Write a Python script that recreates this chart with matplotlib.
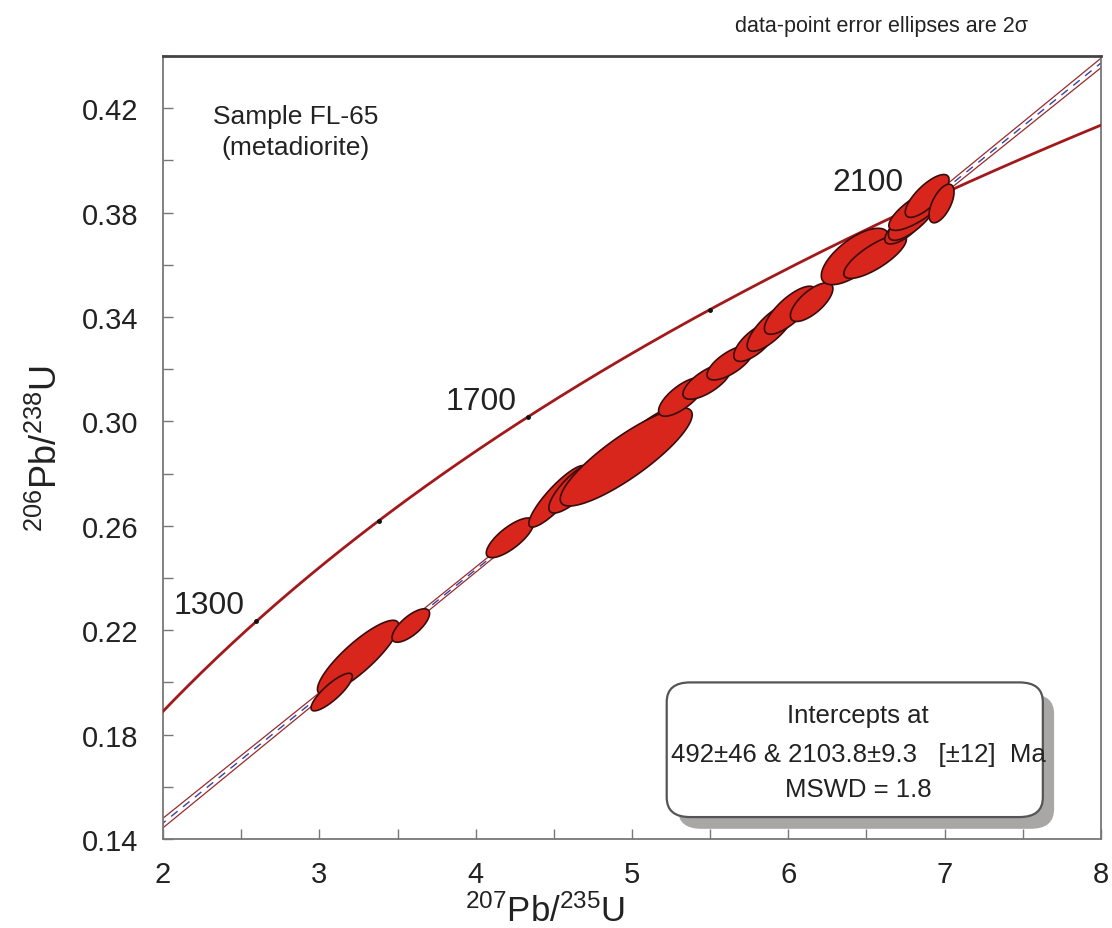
import numpy as np
import matplotlib
matplotlib.use("Agg")
import matplotlib.pyplot as plt
from matplotlib.patches import FancyBboxPatch
from matplotlib.ticker import MultipleLocator, FormatStrFormatter

plt.rcParams["font.family"] = ["Liberation Sans", "DejaVu Sans"]
plt.rcParams["mathtext.fontset"] = "custom"
plt.rcParams["mathtext.rm"] = "Liberation Sans"
plt.rcParams["mathtext.default"] = "regular"

TXT = "#222222"
AX = "#777777"
RED = "#d8261c"
CURVE = "#a3191b"

# decay constants, per Ma
L238 = 1.55125e-4
L235 = 9.8485e-4

# 2-sigma data-point ellipses (207Pb/235U, 206Pb/238U), 1 sigma errors and rho
ell_x = [3.248, 3.079, 3.585, 4.220, 4.524, 4.638, 5.090, 4.963, 5.318, 5.480,
         5.628, 5.787, 5.893, 6.011, 6.149, 6.427, 6.555, 6.737, 6.800, 6.833,
         6.888, 6.980]
ell_sx = [0.130, 0.066, 0.060, 0.076, 0.092, 0.085, 0.115, 0.211, 0.074, 0.077,
          0.074, 0.068, 0.078, 0.082, 0.068, 0.108, 0.100, 0.060, 0.080, 0.095,
          0.070, 0.040]
ell_y = [0.2096, 0.1963, 0.2218, 0.2554, 0.2713, 0.2749, 0.2953, 0.2864, 0.3094, 0.3153,
         0.3225, 0.3304, 0.3361, 0.3426, 0.3457, 0.3632, 0.3632, 0.3740, 0.3784, 0.3816,
         0.3864, 0.3835]
ell_sy = [0.0071, 0.0036, 0.0032, 0.0038, 0.0059, 0.0050, 0.0054, 0.0094, 0.0037, 0.0034,
          0.0033, 0.0037, 0.0046, 0.0046, 0.0037, 0.0054, 0.0042, 0.0030, 0.0045, 0.0042,
          0.0041, 0.0037]
ell_rho = [0.86, 0.84, 0.72, 0.76, 0.88, 0.80, 0.88, 0.86, 0.72, 0.70,
           0.70, 0.70, 0.76, 0.76, 0.70, 0.68, 0.78, 0.70, 0.76, 0.78,
           0.76, 0.60]

age_marks = [1300, 1500, 1700, 1900, 2100]
age_labels = {1300: (-34, 11.5), 1700: (-34, 11.5), 2100: (-45, 12.5)}
t_lower, t_upper = 492.0, 2103.8
env_min, env_slope, env_x0 = 0.0008, 0.00055, 5.0
y_ticks = [0.14, 0.18, 0.22, 0.26, 0.30, 0.34, 0.38, 0.42]


def conc(t):
    return np.exp(L235 * t) - 1, np.exp(L238 * t) - 1


fig = plt.figure(figsize=(11.12, 9.29), dpi=100)
ax = fig.add_axes([0.1466, 0.0958, 0.8435, 0.8428])
ax.set_xlim(2, 8)
ax.set_ylim(0.14, 0.44)

# discordia and its error envelope
x0, y0 = conc(t_lower)
x1, y1 = conc(t_upper)
xs = np.linspace(1.9, 8.1, 300)
yl = y0 + (xs - x0) * (y1 - y0) / (x1 - x0)
hw = np.sqrt(env_min ** 2 + (env_slope * (xs - env_x0)) ** 2)
ax.plot(xs, yl + hw, color="#9a2a2a", lw=0.9, zorder=2)
ax.plot(xs, yl - hw, color="#9a2a2a", lw=0.9, zorder=2)
ax.plot(xs, yl, color="#3344aa", lw=1.0, dashes=(6, 5), zorder=2)

# concordia
tt = np.linspace(1000, 2400, 400)
cx, cy = conc(tt)
ax.plot(cx, cy, color=CURVE, lw=2.0, zorder=3)
for t in age_marks:
    mx, my = conc(t)
    ax.plot(mx, my, "o", color="#111111", ms=2.5, zorder=4)
    if t in age_labels:
        ax.annotate(str(t), (mx, my), xytext=age_labels[t], textcoords="offset points",
                    ha="center", va="center", fontsize=23, color=TXT, zorder=6)

# ellipses
th = np.linspace(0, 2 * np.pi, 200)
for x, sx, y, sy, r in zip(ell_x, ell_sx, ell_y, ell_sy, ell_rho):
    cov = np.array([[sx * sx, r * sx * sy], [r * sx * sy, sy * sy]])
    Lc = np.linalg.cholesky(cov)
    pts = 2 * Lc @ np.vstack([np.cos(th), np.sin(th)])
    ax.fill(x + pts[0], y + pts[1], facecolor=RED, edgecolor="#3a0c0c", lw=1.2, zorder=5)

# axes style
ax.xaxis.set_major_locator(MultipleLocator(1))
ax.xaxis.set_minor_locator(MultipleLocator(0.5))
ax.set_yticks(y_ticks)
ax.yaxis.set_minor_locator(MultipleLocator(0.02))
ax.yaxis.set_major_formatter(FormatStrFormatter("%.2f"))
ax.tick_params(which="both", direction="in", length=7, width=1, color=AX,
               labelsize=21, labelcolor=TXT)
ax.tick_params(axis="y", pad=18)
ax.tick_params(axis="x", pad=15)
for s in ax.spines.values():
    s.set_color(AX)
    s.set_linewidth(1.3)
ax.spines["top"].set_color("#444444")
ax.spines["top"].set_linewidth(2)

ax.set_xlabel(r"$^{207}$Pb/$^{235}$U", fontsize=25, color=TXT)
ax.xaxis.set_label_coords(0.407, -0.069)
ax.set_ylabel(r"$^{206}$Pb/$^{238}$U", fontsize=26, color=TXT)
ax.yaxis.set_label_coords(-0.104, 0.5)

ax.text(0.141, 0.904, "Sample FL-65\n(metadiorite)", transform=ax.transAxes,
        ha="center", va="center", fontsize=19, color=TXT, linespacing=1.35)

# result box with shadow
bx, by, bw, bh = 0.537, 0.028, 0.401, 0.172
ax.add_patch(FancyBboxPatch((bx + 0.012, by - 0.015), bw, bh, transform=ax.transAxes,
                            boxstyle="round,pad=0,rounding_size=0.025",
                            facecolor="#a9a6a6", edgecolor="none", zorder=7))
ax.add_patch(FancyBboxPatch((bx, by), bw, bh, transform=ax.transAxes,
                            boxstyle="round,pad=0,rounding_size=0.025",
                            facecolor="white", edgecolor="#555555", lw=1.6, zorder=8))
for yy, s in zip([0.158, 0.109, 0.064],
                 ["Intercepts at", "492±46 & 2103.8±9.3   [±12]  Ma", "MSWD = 1.8"]):
    ax.text(0.741, yy, s, transform=ax.transAxes, ha="center", va="center",
            fontsize=18.5, color=TXT, zorder=9)

fig.text(0.793, 0.971, "data-point error ellipses are 2σ", ha="center", va="center",
         fontsize=15.5, color=TXT)

fig.savefig("out.png", dpi=100, facecolor="white")
